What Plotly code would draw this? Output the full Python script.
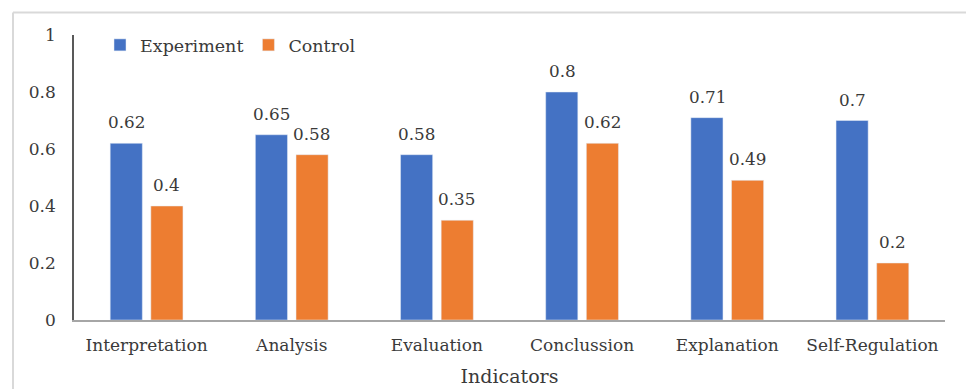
import plotly.graph_objects as go

categories = ["Interpretation", "Analysis", "Evaluation", "Conclussion", "Explanation", "Self-Regulation"]
experiment = [0.62, 0.65, 0.58, 0.80, 0.71, 0.70]
control = [0.40, 0.58, 0.35, 0.62, 0.49, 0.20]
series_names = ["Experiment", "Control"]
y_ticks = [0, 0.2, 0.4, 0.6, 0.8, 1]

FONT = "DejaVu Serif"
TXT = "#3a3a3a"
L, R, T, B = 74, 21, 35, 69
W, H = 966, 389
pw, ph = W - L - R, H - T - B

fig = go.Figure()
fig.add_trace(go.Bar(x=categories, y=experiment, name=series_names[0], marker_color="#4472C4"))
fig.add_trace(go.Bar(x=categories, y=control, name=series_names[1], marker_color="#ED7D31"))

annotations = []
shift = 20
for vals, xs in ((experiment, -shift), (control, shift)):
    for c, v in zip(categories, vals):
        annotations.append(dict(x=c, y=v, xref="x", yref="y", text=f"{v:g}", showarrow=False,
                                xshift=xs, yshift=9, yanchor="bottom",
                                font=dict(family=FONT, size=16.8, color=TXT)))

def px_x(p):
    return (p - L) / pw

def px_y(p):
    return (H - B - p) / ph

shapes = [
    dict(type="line", xref="paper", yref="paper", x0=px_x(13), x1=px_x(W + 5), y0=px_y(12.5), y1=px_y(12.5),
         line=dict(color="#d9d9d9", width=2)),
    dict(type="line", xref="paper", yref="paper", x0=px_x(13), x1=px_x(13), y0=px_y(12.5), y1=px_y(H + 5),
         line=dict(color="#d9d9d9", width=2)),
]

fig.update_layout(
    width=W, height=H,
    margin=dict(l=L, r=R, t=T, b=B, autoexpand=False),
    paper_bgcolor="white", plot_bgcolor="white",
    barmode="group", bargap=0.44, bargroupgap=0.21,
    font=dict(family=FONT, size=17, color=TXT),
    showlegend=True,
    legend=dict(orientation="h", x=px_x(100), y=px_y(27), xanchor="left", yanchor="top",
                font=dict(family=FONT, size=17.5, color=TXT), bgcolor="rgba(0,0,0,0)",
                itemwidth=30, traceorder="normal"),
    annotations=annotations,
    shapes=shapes,
)
fig.update_xaxes(showline=True, linecolor="#a6a6a6", linewidth=2, ticks="", showgrid=False, automargin=False,
                 tickfont=dict(family=FONT, size=17, color=TXT), ticklabelstandoff=9,
                 title=dict(text="Indicators", font=dict(family=FONT, size=19, color=TXT), standoff=15))
fig.update_yaxes(range=[0, 1], tickvals=y_ticks, ticktext=[f"{t:g}" for t in y_ticks], automargin=False,
                 showline=True, linecolor="#595959", linewidth=1.5, ticks="", showgrid=False,
                 zeroline=False, tickfont=dict(family=FONT, size=17, color=TXT), ticklabelstandoff=13)

fig.write_html("out.html", config={"displayModeBar": False},
               post_script="document.body.style.margin='0';document.body.style.overflow='hidden';")
